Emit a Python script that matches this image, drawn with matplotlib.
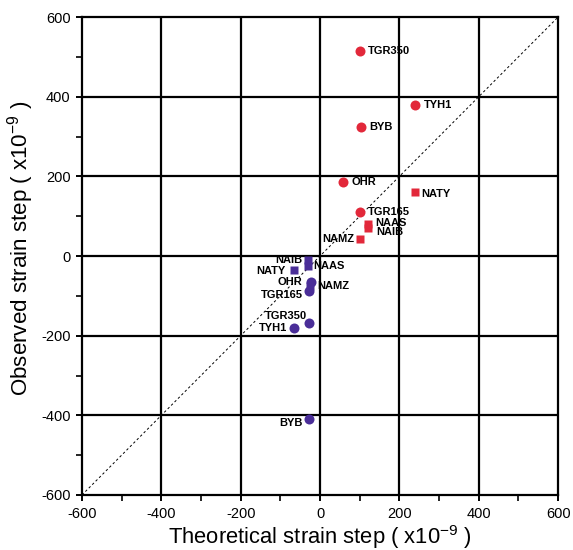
import matplotlib
matplotlib.use("Agg")
import matplotlib.pyplot as plt
import numpy as np

plt.rcParams['font.family'] = ['Liberation Sans', 'DejaVu Sans']
plt.rcParams['axes.unicode_minus'] = False
plt.rcParams['mathtext.fontset'] = 'custom'
plt.rcParams['mathtext.rm'] = 'Liberation Sans'
plt.rcParams['mathtext.it'] = 'Liberation Sans'
plt.rcParams['mathtext.default'] = 'regular'

# Co-seismic (red) data
red_circ_names = ["TGR350", "TYH1", "BYB", "OHR", "TGR165"]
red_circ_x = [100, 240, 103, 58, 100]
red_circ_y = [515, 380, 325, 187, 110]

red_sq_names = ["NATY", "NAAS", "NAIB", "NAMZ"]
red_sq_x = [240, 122, 121, 100]
red_sq_y = [160, 80, 70, 43]

# Second event (purple) data
pur_circ_names = ["OHR", "TGR165", "TGR350", "TYH1", "BYB"]
pur_circ_x = [-23, -28, -27, -65, -27]
pur_circ_y = [-64, -87, -167, -180, -408]

pur_sq_names = ["NAIB", "NAAS", "NATY", "NAMZ"]
pur_sq_x = [-31, -31, -65, -25]
pur_sq_y = [-10, -25, -35, -75]

ticks = [-600, -400, -200, 0, 200, 400, 600]

RED = "#e2283a"
PUR = "#4a2e98"

fig = plt.figure(figsize=(5.73, 5.5), dpi=100)
ax = fig.add_axes([0.143, 0.1, 0.831, 0.869])
ax.set_xlim(-600, 600)
ax.set_ylim(-600, 600)

for t in ticks[1:-1]:
    ax.axvline(t, color="black", lw=1.6, zorder=1)
    ax.axhline(t, color="black", lw=1.6, zorder=1)

ax.plot([-600, 600], [-600, 600], color="black", lw=0.7, ls=(0, (2.5, 2.5)), zorder=2)

ax.plot(red_circ_x, red_circ_y, "o", color=RED, ms=7.2, mec="none", zorder=3)
ax.plot(red_sq_x, red_sq_y, "s", color=RED, ms=5.2, mec="none", zorder=3)
ax.plot(pur_sq_x, pur_sq_y, "s", color=PUR, ms=5.2, mec="none", zorder=3)
ax.plot(pur_circ_x, pur_circ_y, "o", color=PUR, ms=7.2, mec="none", zorder=3)

fs = 8
def lab(name, x, y, dx, dy, ha):
    ax.annotate(name, (x, y), xytext=(dx, dy), textcoords="offset points",
                ha=ha, va="center", fontsize=fs, fontweight="bold", zorder=4)

# red labels
red_circ_off = [(6, 0), (6, 0), (6, 0), (6, 0), (6, 0)]
for n, x, y, o in zip(red_circ_names, red_circ_x, red_circ_y, red_circ_off):
    lab(n, x, y, o[0], o[1], "left")
red_sq_off = [(4, -1), (5, 1), (6, -3), (-4, 0)]
red_sq_ha = ["left", "left", "left", "right"]
for n, x, y, o, h in zip(red_sq_names, red_sq_x, red_sq_y, red_sq_off, red_sq_ha):
    lab(n, x, y, o[0], o[1], h)

# purple labels
pur_circ_off = [(-6, 0), (-4, -3), (-2, 5), (-5, 0), (-5, -3)]
for n, x, y, o in zip(pur_circ_names, pur_circ_x, pur_circ_y, pur_circ_off):
    lab(n, x, y, o[0], o[1], "right")
pur_sq_off = [(-4, 0), (4, 0), (-6, -1), (5, 0)]
pur_sq_ha = ["right", "left", "right", "left"]
for n, x, y, o, h in zip(pur_sq_names, pur_sq_x, pur_sq_y, pur_sq_off, pur_sq_ha):
    lab(n, x, y, o[0], o[1], h)

ax.set_xticks(ticks)
ax.set_yticks(ticks)
ax.set_xticks(np.arange(-500, 600, 200), minor=True)
ax.set_yticks(np.arange(-500, 600, 200), minor=True)
ax.tick_params(which="major", direction="inout", length=8.6, width=1.4, labelsize=10.5, pad=4)
ax.tick_params(which="minor", direction="out", length=4.3, width=1.2)
for s in ax.spines.values():
    s.set_linewidth(1.6)

ax.set_xlabel("Theoretical strain step ( x10$^{-9}$ )", fontsize=15.8, labelpad=2)
ax.set_ylabel("Observed strain step ( x10$^{-9}$ )", fontsize=16.1)
ax.yaxis.set_label_coords(-0.097, 0.517)

fig.savefig("out.png", dpi=100)
